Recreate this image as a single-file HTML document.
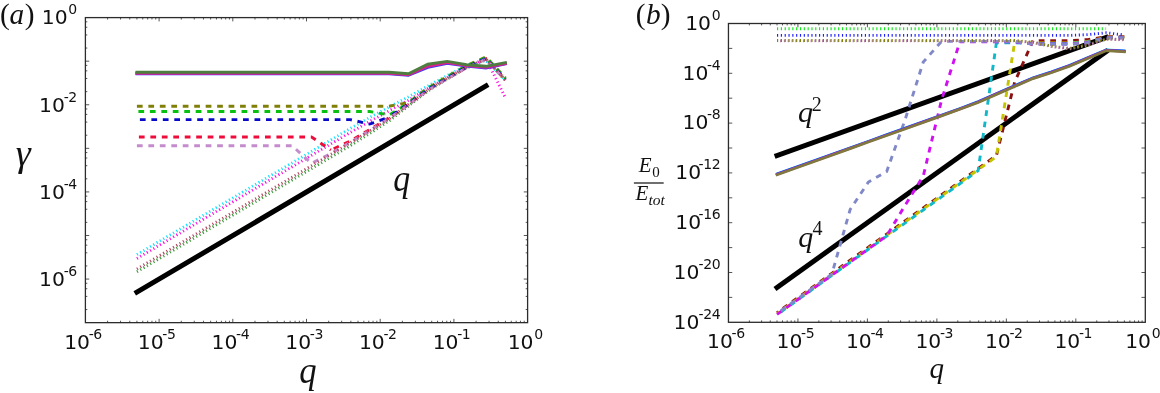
<!DOCTYPE html>
<html lang="en">
<head>
<meta charset="utf-8">
<title>Growth rate and energy ratio versus q</title>
<style>
html,body{margin:0;padding:0;background:#fff;}
body{width:1160px;height:393px;overflow:hidden;}
svg{display:block;}
.tk{font-family:"DejaVu Sans","Liberation Sans",sans-serif;font-size:20.3px;fill:#111;}
.sup{font-size:14px;letter-spacing:-0.4px;}
.it{font-family:"Liberation Serif","DejaVu Serif",serif;font-style:italic;fill:#111;}
</style>
</head>
<body>
<svg width="1160" height="393" viewBox="0 0 1160 393">
<rect x="0" y="0" width="1160" height="393" fill="#ffffff"/>
<g id="panel-a">
<polyline points="136.91,271.80 156.31,260.34 175.70,248.88 195.10,237.41 214.49,225.95 233.89,214.49 253.28,203.03 272.68,191.56 292.07,180.10 311.47,168.64 330.86,157.18 350.26,145.71 369.65,133.50 389.05,121.00 408.44,106.00 427.84,91.00 447.23,79.00 466.62,68.00 486.02,59.50 505.41,80.50" fill="none" stroke="#3c9c3c" stroke-width="2.90" stroke-linecap="butt" stroke-linejoin="miter" stroke-dasharray="1.15 2.67"/>
<polyline points="136.91,258.50 156.31,247.04 175.70,235.58 195.10,224.11 214.49,212.65 233.89,201.19 253.28,189.73 272.68,178.26 292.07,166.80 311.47,155.34 330.86,143.88 350.26,132.50 369.65,121.50 389.05,110.80 408.44,100.30 427.84,88.50 447.23,77.50 466.62,66.50 486.02,58.80 505.41,97.70" fill="none" stroke="#ff10e0" stroke-width="2.90" stroke-linecap="butt" stroke-linejoin="miter" stroke-dasharray="1.15 2.67"/>
<polyline points="136.91,254.60 156.31,243.14 175.70,231.68 195.10,220.21 214.49,208.75 233.89,197.29 253.28,185.83 272.68,174.36 292.07,162.90 311.47,151.44 330.86,139.98 350.26,128.50 369.65,117.50 389.05,107.00 408.44,96.80 427.84,86.00 447.23,75.50 466.62,65.50 486.02,60.50 505.41,80.00" fill="none" stroke="#10e0ff" stroke-width="2.90" stroke-linecap="butt" stroke-linejoin="miter" stroke-dasharray="1.15 2.67"/>
<polyline points="136.91,106.20 156.31,106.20 175.70,106.20 195.10,106.20 214.49,106.20 233.89,106.20 253.28,106.20 272.68,106.20 292.07,106.20 311.47,106.20 330.86,106.20 350.26,106.20 369.65,106.20 389.05,106.20 408.44,102.50" fill="none" stroke="#808008" stroke-width="2.90" stroke-linecap="butt" stroke-linejoin="miter" stroke-dasharray="5.73 5.73" stroke-dashoffset="0.00"/>
<polyline points="408.44,102.50 427.84,88.00 447.23,76.50 466.62,65.50 486.02,56.90 505.41,77.90" fill="none" stroke="#808008" stroke-width="2.90" stroke-linecap="butt" stroke-linejoin="miter" stroke-dasharray="5.73 5.73" stroke-dashoffset="8.34"/>
<polyline points="136.91,137.00 156.31,137.00 175.70,137.00 195.10,137.00 214.49,137.00 233.89,137.00 253.28,137.00 272.68,137.00 292.07,137.00 311.47,137.00 330.86,150.00" fill="none" stroke="#ee0c3a" stroke-width="2.90" stroke-linecap="butt" stroke-linejoin="miter" stroke-dasharray="5.73 5.73" stroke-dashoffset="9.46"/>
<polyline points="330.86,150.00 350.26,141.00 369.65,129.60 389.05,117.90 408.44,104.40 427.84,89.90 447.23,78.40 466.62,67.40 486.02,58.80 505.41,79.80" fill="none" stroke="#ee0c3a" stroke-width="2.90" stroke-linecap="butt" stroke-linejoin="miter" stroke-dasharray="5.73 5.73" stroke-dashoffset="8.37"/>
<polyline points="136.91,111.50 156.31,111.50 175.70,111.50 195.10,111.50 214.49,111.50 233.89,111.50 253.28,111.50 272.68,111.50 292.07,111.50 311.47,111.50 330.86,111.50 350.26,111.50 369.65,111.50 389.05,115.00 408.44,103.10" fill="none" stroke="#08c010" stroke-width="2.90" stroke-linecap="butt" stroke-linejoin="miter" stroke-dasharray="5.73 5.73" stroke-dashoffset="9.96"/>
<polyline points="408.44,103.10 427.84,88.60 447.23,77.10 466.62,66.10 486.02,57.50 505.41,78.50" fill="none" stroke="#08c010" stroke-width="2.90" stroke-linecap="butt" stroke-linejoin="miter" stroke-dasharray="5.73 5.73" stroke-dashoffset="8.34"/>
<polyline points="136.91,119.60 156.31,119.60 175.70,119.60 195.10,119.60 214.49,119.60 233.89,119.60 253.28,119.60 272.68,119.60 292.07,119.60 311.47,119.60 330.86,119.60 350.26,119.60 369.65,124.10 389.05,117.20" fill="none" stroke="#0808c8" stroke-width="2.90" stroke-linecap="butt" stroke-linejoin="miter" stroke-dasharray="5.73 5.73" stroke-dashoffset="8.46"/>
<polyline points="389.05,117.20 408.44,104.00 427.84,89.50 447.23,78.00 466.62,67.00 486.02,58.40 505.41,79.40" fill="none" stroke="#0808c8" stroke-width="2.90" stroke-linecap="butt" stroke-linejoin="miter" stroke-dasharray="5.73 5.73" stroke-dashoffset="7.52"/>
<polyline points="136.91,145.70 156.31,145.70 175.70,145.70 195.10,145.70 214.49,145.70 233.89,145.70 253.28,145.70 272.68,145.70 292.07,145.70 311.47,163.40 330.86,153.50 350.26,142.30 369.65,130.40 389.05,118.50 408.44,104.80 427.84,90.30 447.23,78.80 466.62,67.80 486.02,59.20 505.41,80.20" fill="none" stroke="#c48ccc" stroke-width="2.90" stroke-linecap="butt" stroke-linejoin="miter" stroke-dasharray="5.73 5.73" stroke-dashoffset="0.00"/>
<polyline points="136.91,269.00 156.31,257.54 175.70,246.08 195.10,234.61 214.49,223.15 233.89,211.69 253.28,200.23 272.68,188.76 292.07,177.30 311.47,165.84 330.86,154.38 350.26,142.91 369.65,131.00 389.05,119.00 408.44,104.50 427.84,90.00 447.23,78.50 466.62,67.50 486.02,59.00 505.41,80.00" fill="none" stroke="#b04860" stroke-width="2.90" stroke-linecap="butt" stroke-linejoin="miter" stroke-dasharray="1.15 2.67"/>
<polyline points="136.91,73.80 156.31,73.80 175.70,73.80 195.10,73.80 214.49,73.80 233.89,73.80 253.28,73.80 272.68,73.80 292.07,73.80 311.47,73.80 330.86,73.80 350.26,73.80 369.65,73.80 389.05,73.80 408.44,75.40 427.84,67.40 447.23,63.40 466.62,66.00 486.02,68.00 505.41,63.90" fill="none" stroke="#3a3aff" stroke-width="2.90" stroke-linecap="square" stroke-linejoin="miter"/>
<polyline points="136.91,73.20 156.31,73.20 175.70,73.20 195.10,73.20 214.49,73.20 233.89,73.20 253.28,73.20 272.68,73.20 292.07,73.20 311.47,73.20 330.86,73.20 350.26,73.20 369.65,73.20 389.05,73.20 408.44,74.80 427.84,66.20 447.23,62.60 466.62,65.60 486.02,67.40 505.41,63.50" fill="none" stroke="#e0208a" stroke-width="2.90" stroke-linecap="square" stroke-linejoin="miter"/>
<polyline points="136.91,72.20 156.31,72.20 175.70,72.20 195.10,72.20 214.49,72.20 233.89,72.20 253.28,72.20 272.68,72.20 292.07,72.20 311.47,72.20 330.86,72.20 350.26,72.20 369.65,72.20 389.05,72.20 408.44,73.80 427.84,64.20 447.23,61.40 466.62,64.80 486.02,66.30 505.41,62.60" fill="none" stroke="#4d7d3f" stroke-width="2.90" stroke-linecap="square" stroke-linejoin="miter"/>
<polyline points="136.91,292.19 486.02,85.97" fill="none" stroke="#000" stroke-width="5.00" stroke-linecap="square" stroke-linejoin="miter"/>
<rect x="85.40" y="17.60" width="442.20" height="305.05" fill="none" stroke="#2c2c2c" stroke-width="1.3"/>
<path d="M107.59 322.65L107.59 320.74M107.59 17.60L107.59 19.51M120.56 322.65L120.56 320.74M120.56 17.60L120.56 19.51M129.77 322.65L129.77 320.74M129.77 17.60L129.77 19.51M136.91 322.65L136.91 320.74M136.91 17.60L136.91 19.51M142.75 322.65L142.75 320.74M142.75 17.60L142.75 19.51M147.68 322.65L147.68 320.74M147.68 17.60L147.68 19.51M151.96 322.65L151.96 320.74M151.96 17.60L151.96 19.51M155.73 322.65L155.73 320.74M155.73 17.60L155.73 19.51M159.10 322.65L159.10 318.83M159.10 17.60L159.10 21.42M181.29 322.65L181.29 320.74M181.29 17.60L181.29 19.51M194.26 322.65L194.26 320.74M194.26 17.60L194.26 19.51M203.47 322.65L203.47 320.74M203.47 17.60L203.47 19.51M210.61 322.65L210.61 320.74M210.61 17.60L210.61 19.51M216.45 322.65L216.45 320.74M216.45 17.60L216.45 19.51M221.38 322.65L221.38 320.74M221.38 17.60L221.38 19.51M225.66 322.65L225.66 320.74M225.66 17.60L225.66 19.51M229.43 322.65L229.43 320.74M229.43 17.60L229.43 19.51M232.80 322.65L232.80 318.83M232.80 17.60L232.80 21.42M254.99 322.65L254.99 320.74M254.99 17.60L254.99 19.51M267.96 322.65L267.96 320.74M267.96 17.60L267.96 19.51M277.17 322.65L277.17 320.74M277.17 17.60L277.17 19.51M284.31 322.65L284.31 320.74M284.31 17.60L284.31 19.51M290.15 322.65L290.15 320.74M290.15 17.60L290.15 19.51M295.08 322.65L295.08 320.74M295.08 17.60L295.08 19.51M299.36 322.65L299.36 320.74M299.36 17.60L299.36 19.51M303.13 322.65L303.13 320.74M303.13 17.60L303.13 19.51M306.50 322.65L306.50 318.83M306.50 17.60L306.50 21.42M328.69 322.65L328.69 320.74M328.69 17.60L328.69 19.51M341.66 322.65L341.66 320.74M341.66 17.60L341.66 19.51M350.87 322.65L350.87 320.74M350.87 17.60L350.87 19.51M358.01 322.65L358.01 320.74M358.01 17.60L358.01 19.51M363.85 322.65L363.85 320.74M363.85 17.60L363.85 19.51M368.78 322.65L368.78 320.74M368.78 17.60L368.78 19.51M373.06 322.65L373.06 320.74M373.06 17.60L373.06 19.51M376.83 322.65L376.83 320.74M376.83 17.60L376.83 19.51M380.20 322.65L380.20 318.83M380.20 17.60L380.20 21.42M402.39 322.65L402.39 320.74M402.39 17.60L402.39 19.51M415.36 322.65L415.36 320.74M415.36 17.60L415.36 19.51M424.57 322.65L424.57 320.74M424.57 17.60L424.57 19.51M431.71 322.65L431.71 320.74M431.71 17.60L431.71 19.51M437.55 322.65L437.55 320.74M437.55 17.60L437.55 19.51M442.48 322.65L442.48 320.74M442.48 17.60L442.48 19.51M446.76 322.65L446.76 320.74M446.76 17.60L446.76 19.51M450.53 322.65L450.53 320.74M450.53 17.60L450.53 19.51M453.90 322.65L453.90 318.83M453.90 17.60L453.90 21.42M476.09 322.65L476.09 320.74M476.09 17.60L476.09 19.51M489.06 322.65L489.06 320.74M489.06 17.60L489.06 19.51M498.27 322.65L498.27 320.74M498.27 17.60L498.27 19.51M505.41 322.65L505.41 320.74M505.41 17.60L505.41 19.51M511.25 322.65L511.25 320.74M511.25 17.60L511.25 19.51M516.18 322.65L516.18 320.74M516.18 17.60L516.18 19.51M520.46 322.65L520.46 320.74M520.46 17.60L520.46 19.51M524.23 322.65L524.23 320.74M524.23 17.60L524.23 19.51" stroke="#2c2c2c" stroke-width="0.80" fill="none"/>
<path d="M85.40 21.82L87.31 21.82M527.60 21.82L525.69 21.82M85.40 27.27L87.31 27.27M527.60 27.27L525.69 27.27M85.40 34.94L87.31 34.94M527.60 34.94L525.69 34.94M85.40 48.06L87.31 48.06M527.60 48.06L525.69 48.06M85.40 61.18L89.22 61.18M527.60 61.18L523.78 61.18M85.40 65.40L87.31 65.40M527.60 65.40L525.69 65.40M85.40 70.85L87.31 70.85M527.60 70.85L525.69 70.85M85.40 78.52L87.31 78.52M527.60 78.52L525.69 78.52M85.40 91.64L87.31 91.64M527.60 91.64L525.69 91.64M85.40 104.76L89.22 104.76M527.60 104.76L523.78 104.76M85.40 108.98L87.31 108.98M527.60 108.98L525.69 108.98M85.40 114.42L87.31 114.42M527.60 114.42L525.69 114.42M85.40 122.10L87.31 122.10M527.60 122.10L525.69 122.10M85.40 135.22L87.31 135.22M527.60 135.22L525.69 135.22M85.40 148.34L89.22 148.34M527.60 148.34L523.78 148.34M85.40 152.56L87.31 152.56M527.60 152.56L525.69 152.56M85.40 158.00L87.31 158.00M527.60 158.00L525.69 158.00M85.40 165.68L87.31 165.68M527.60 165.68L525.69 165.68M85.40 178.80L87.31 178.80M527.60 178.80L525.69 178.80M85.40 191.91L89.22 191.91M527.60 191.91L523.78 191.91M85.40 196.14L87.31 196.14M527.60 196.14L525.69 196.14M85.40 201.58L87.31 201.58M527.60 201.58L525.69 201.58M85.40 209.26L87.31 209.26M527.60 209.26L525.69 209.26M85.40 222.37L87.31 222.37M527.60 222.37L525.69 222.37M85.40 235.49L89.22 235.49M527.60 235.49L523.78 235.49M85.40 239.72L87.31 239.72M527.60 239.72L525.69 239.72M85.40 245.16L87.31 245.16M527.60 245.16L525.69 245.16M85.40 252.83L87.31 252.83M527.60 252.83L525.69 252.83M85.40 265.95L87.31 265.95M527.60 265.95L525.69 265.95M85.40 279.07L89.22 279.07M527.60 279.07L523.78 279.07M85.40 283.29L87.31 283.29M527.60 283.29L525.69 283.29M85.40 288.74L87.31 288.74M527.60 288.74L525.69 288.74M85.40 296.41L87.31 296.41M527.60 296.41L525.69 296.41M85.40 309.53L87.31 309.53M527.60 309.53L525.69 309.53" stroke="#2c2c2c" stroke-width="0.80" fill="none"/>
<text x="83.00" y="348.90" text-anchor="middle" class="tk">10<tspan dx="-1.3" dy="-10.0" class="sup">-6</tspan></text>
<text x="156.70" y="348.90" text-anchor="middle" class="tk">10<tspan dx="-1.3" dy="-10.0" class="sup">-5</tspan></text>
<text x="230.40" y="348.90" text-anchor="middle" class="tk">10<tspan dx="-1.3" dy="-10.0" class="sup">-4</tspan></text>
<text x="304.10" y="348.90" text-anchor="middle" class="tk">10<tspan dx="-1.3" dy="-10.0" class="sup">-3</tspan></text>
<text x="377.80" y="348.90" text-anchor="middle" class="tk">10<tspan dx="-1.3" dy="-10.0" class="sup">-2</tspan></text>
<text x="451.50" y="348.90" text-anchor="middle" class="tk">10<tspan dx="-1.3" dy="-10.0" class="sup">-1</tspan></text>
<text x="525.20" y="348.90" text-anchor="middle" class="tk">10<tspan dx="0.7" dy="-10.0" class="sup">0</tspan></text>
<text x="76.80" y="24.40" text-anchor="end" class="tk">10<tspan dx="0.7" dy="-10.0" class="sup">0</tspan></text>
<text x="76.80" y="111.56" text-anchor="end" class="tk">10<tspan dx="-1.3" dy="-10.0" class="sup">-2</tspan></text>
<text x="76.80" y="198.71" text-anchor="end" class="tk">10<tspan dx="-1.3" dy="-10.0" class="sup">-4</tspan></text>
<text x="76.80" y="285.87" text-anchor="end" class="tk">10<tspan dx="-1.3" dy="-10.0" class="sup">-6</tspan></text>
<text x="0.0" y="23.8" class="it" font-size="29.3"><tspan font-style="normal">(</tspan><tspan dx="-0.2">a</tspan><tspan dx="0.6" font-style="normal">)</tspan></text>
<text x="15.7" y="165.8" class="it" font-size="38">γ</text>
<text transform="translate(299.2 383) scale(0.9 1)" class="it" font-size="38.5">q</text>
<text transform="translate(393.2 191) scale(0.9 1)" class="it" font-size="37.5">q</text>
</g>
<g id="panel-b">
<polyline points="777.01,155.50 1106.10,37.55" fill="none" stroke="#000" stroke-width="5.00" stroke-linecap="square" stroke-linejoin="miter"/>
<polyline points="777.01,287.49 1106.10,51.60" fill="none" stroke="#000" stroke-width="5.00" stroke-linecap="square" stroke-linejoin="miter"/>
<polyline points="777.01,312.60 795.29,299.51 813.58,286.42 831.86,273.33 850.14,260.24 868.43,247.15 886.71,234.06 904.99,220.97 923.27,207.88 941.56,194.79 959.84,181.69 978.12,168.60 996.41,155.51 1014.69,82.00 1032.97,40.65" fill="none" stroke="#8b1010" stroke-width="2.90" stroke-linecap="butt" stroke-linejoin="miter" stroke-dasharray="5.73 5.73" stroke-dashoffset="4.26"/>
<polyline points="1032.97,40.65 1051.25,40.65 1069.54,40.65 1087.82,39.60 1106.10,36.75 1124.39,36.75" fill="none" stroke="#8b1010" stroke-width="2.90" stroke-linecap="butt" stroke-linejoin="miter" stroke-dasharray="5.73 5.73" stroke-dashoffset="5.65"/>
<polyline points="777.01,313.70 795.29,300.61 813.58,287.52 831.86,274.43 850.14,261.34 868.43,248.25 886.71,235.16 904.99,222.07 923.27,208.98 941.56,195.89 959.84,182.79 978.12,169.70 996.41,156.61 1014.69,42.00" fill="none" stroke="#c4c400" stroke-width="2.90" stroke-linecap="butt" stroke-linejoin="miter" stroke-dasharray="5.73 5.73" stroke-dashoffset="2.06"/>
<polyline points="1014.69,42.00 1032.97,42.85 1051.25,42.85 1069.54,42.85 1087.82,41.50 1106.10,37.30 1124.39,37.30" fill="none" stroke="#c4c400" stroke-width="2.90" stroke-linecap="butt" stroke-linejoin="miter" stroke-dasharray="5.73 5.73" stroke-dashoffset="10.29"/>
<polyline points="777.01,314.70 795.29,301.61 813.58,288.52 831.86,275.43 850.14,262.34 868.43,249.25 886.71,236.16 904.99,223.07 923.27,209.98 941.56,196.89 959.84,183.79 978.12,170.70 996.41,42.80" fill="none" stroke="#10b8c8" stroke-width="2.90" stroke-linecap="butt" stroke-linejoin="miter" stroke-dasharray="5.73 5.73" stroke-dashoffset="6.76"/>
<polyline points="996.41,42.80 1014.69,42.80 1032.97,43.45 1051.25,43.45 1069.54,43.45 1087.82,42.00 1106.10,37.60 1124.39,37.60" fill="none" stroke="#10b8c8" stroke-width="2.90" stroke-linecap="butt" stroke-linejoin="miter" stroke-dasharray="5.73 5.73" stroke-dashoffset="3.47"/>
<polyline points="777.01,314.40 795.29,301.31 813.58,288.22 831.86,275.13 850.14,262.04 868.43,248.95 886.71,235.86 904.99,205.50 923.27,176.00 941.56,100.00 959.84,41.90" fill="none" stroke="#d010f0" stroke-width="2.90" stroke-linecap="butt" stroke-linejoin="miter" stroke-dasharray="5.73 5.73" stroke-dashoffset="0.00"/>
<polyline points="959.84,41.90 978.12,41.90 996.41,41.90 1014.69,41.90 1032.97,44.00 1051.25,44.00 1069.54,44.00 1087.82,42.50 1106.10,37.90 1124.39,37.90" fill="none" stroke="#d010f0" stroke-width="2.90" stroke-linecap="butt" stroke-linejoin="miter" stroke-dasharray="5.73 5.73" stroke-dashoffset="1.28"/>
<polyline points="777.01,313.50 795.29,300.41 813.58,287.32 831.86,274.23 850.14,209.50 868.43,182.00 886.71,171.50 904.99,120.00 923.27,62.00 941.56,41.40" fill="none" stroke="#8088c8" stroke-width="2.90" stroke-linecap="butt" stroke-linejoin="miter" stroke-dasharray="5.73 5.73" stroke-dashoffset="6.76"/>
<polyline points="941.56,41.40 959.84,41.40 978.12,41.40 996.41,41.40 1014.69,41.40 1032.97,44.25 1051.25,44.25 1069.54,44.25 1087.82,42.70 1106.10,38.15 1124.39,38.15" fill="none" stroke="#8088c8" stroke-width="2.90" stroke-linecap="butt" stroke-linejoin="miter" stroke-dasharray="5.73 5.73" stroke-dashoffset="5.92"/>
<polyline points="777.01,28.70 795.29,28.70 813.58,28.70 831.86,28.70 850.14,28.70 868.43,28.70 886.71,28.70 904.99,28.70 923.27,28.70 941.56,28.70 959.84,28.70 978.12,28.70 996.41,28.70 1014.69,28.70 1032.97,28.70 1051.25,28.70 1069.54,28.70 1087.82,28.70 1106.10,28.70" fill="none" stroke="#10e818" stroke-width="2.90" stroke-linecap="butt" stroke-linejoin="miter" stroke-dasharray="1.15 2.67"/>
<polyline points="777.01,35.40 795.29,35.40 813.58,35.40 831.86,35.40 850.14,35.40 868.43,35.40 886.71,35.40 904.99,35.40 923.27,35.40 941.56,35.40 959.84,35.40 978.12,35.40 996.41,35.40 1014.69,35.40 1032.97,35.40 1051.25,35.40 1069.54,35.40 1087.82,34.60 1106.10,32.80 1124.39,35.00" fill="none" stroke="#2020ff" stroke-width="2.90" stroke-linecap="butt" stroke-linejoin="miter" stroke-dasharray="1.15 2.67"/>
<polyline points="777.01,40.90 795.29,40.90 813.58,40.90 831.86,40.90 850.14,40.90 868.43,40.90 886.71,40.90 904.99,40.90 923.27,40.90 941.56,40.90 959.84,40.90 978.12,40.90 996.41,40.90 1014.69,40.90 1032.97,42.60 1051.25,46.60 1069.54,48.80 1087.82,45.20 1106.10,39.40 1124.39,39.80" fill="none" stroke="#c080c0" stroke-width="2.90" stroke-linecap="butt" stroke-linejoin="miter" stroke-dasharray="1.15 2.67" stroke-dashoffset="0.80"/>
<polyline points="777.01,40.50 795.29,40.50 813.58,40.50 831.86,40.50 850.14,40.50 868.43,40.50 886.71,40.50 904.99,40.50 923.27,40.50 941.56,40.50 959.84,40.50 978.12,40.50 996.41,40.50 1014.69,40.50 1032.97,42.20 1051.25,46.20 1069.54,48.40 1087.82,44.80 1106.10,39.00 1124.39,39.40" fill="none" stroke="#808010" stroke-width="2.90" stroke-linecap="butt" stroke-linejoin="miter" stroke-dasharray="1.15 2.67"/>
<polyline points="777.01,173.55 795.29,167.00 813.58,160.46 831.86,153.91 850.14,147.37 868.43,140.82 886.71,134.28 904.99,127.73 923.27,121.19 941.56,114.64 959.84,108.10 978.12,101.25 996.41,93.15 1014.69,85.25 1032.97,77.35 1051.25,71.55 1069.54,64.95 1087.82,57.15 1106.10,49.45 1124.39,50.55" fill="none" stroke="#20d8e8" stroke-width="2.00" stroke-linecap="square" stroke-linejoin="miter"/>
<polyline points="777.01,173.95 795.29,167.40 813.58,160.86 831.86,154.31 850.14,147.77 868.43,141.22 886.71,134.68 904.99,128.13 923.27,121.59 941.56,115.04 959.84,108.50 978.12,101.65 996.41,93.55 1014.69,85.65 1032.97,77.75 1051.25,71.95 1069.54,65.35 1087.82,57.55 1106.10,49.85 1124.39,50.95" fill="none" stroke="#3030ff" stroke-width="2.30" stroke-linecap="square" stroke-linejoin="miter"/>
<polyline points="777.01,174.40 795.29,167.85 813.58,161.31 831.86,154.76 850.14,148.22 868.43,141.67 886.71,135.13 904.99,128.58 923.27,122.04 941.56,115.49 959.84,108.95 978.12,102.10 996.41,94.00 1014.69,86.10 1032.97,78.20 1051.25,72.40 1069.54,65.80 1087.82,58.00 1106.10,50.30 1124.39,51.40" fill="none" stroke="#b020c0" stroke-width="2.50" stroke-linecap="square" stroke-linejoin="miter"/>
<polyline points="777.01,174.80 795.29,168.25 813.58,161.71 831.86,155.16 850.14,148.62 868.43,142.07 886.71,135.53 904.99,128.98 923.27,122.44 941.56,115.89 959.84,109.35 978.12,102.50 996.41,94.40 1014.69,86.50 1032.97,78.60 1051.25,72.80 1069.54,66.20 1087.82,58.40 1106.10,50.70 1124.39,51.80" fill="none" stroke="#80783c" stroke-width="2.70" stroke-linecap="square" stroke-linejoin="miter"/>
<rect x="728.45" y="23.50" width="416.85" height="298.80" fill="none" stroke="#2c2c2c" stroke-width="1.3"/>
<path d="M749.36 322.30L749.36 320.39M749.36 23.50L749.36 25.41M761.60 322.30L761.60 320.39M761.60 23.50L761.60 25.41M770.28 322.30L770.28 320.39M770.28 23.50L770.28 25.41M777.01 322.30L777.01 320.39M777.01 23.50L777.01 25.41M782.51 322.30L782.51 320.39M782.51 23.50L782.51 25.41M787.16 322.30L787.16 320.39M787.16 23.50L787.16 25.41M791.19 322.30L791.19 320.39M791.19 23.50L791.19 25.41M794.75 322.30L794.75 320.39M794.75 23.50L794.75 25.41M797.93 322.30L797.93 318.48M797.93 23.50L797.93 27.32M818.84 322.30L818.84 320.39M818.84 23.50L818.84 25.41M831.07 322.30L831.07 320.39M831.07 23.50L831.07 25.41M839.75 322.30L839.75 320.39M839.75 23.50L839.75 25.41M846.49 322.30L846.49 320.39M846.49 23.50L846.49 25.41M851.99 322.30L851.99 320.39M851.99 23.50L851.99 25.41M856.64 322.30L856.64 320.39M856.64 23.50L856.64 25.41M860.67 322.30L860.67 320.39M860.67 23.50L860.67 25.41M864.22 322.30L864.22 320.39M864.22 23.50L864.22 25.41M867.40 322.30L867.40 318.48M867.40 23.50L867.40 27.32M888.31 322.30L888.31 320.39M888.31 23.50L888.31 25.41M900.55 322.30L900.55 320.39M900.55 23.50L900.55 25.41M909.23 322.30L909.23 320.39M909.23 23.50L909.23 25.41M915.96 322.30L915.96 320.39M915.96 23.50L915.96 25.41M921.46 322.30L921.46 320.39M921.46 23.50L921.46 25.41M926.11 322.30L926.11 320.39M926.11 23.50L926.11 25.41M930.14 322.30L930.14 320.39M930.14 23.50L930.14 25.41M933.70 322.30L933.70 320.39M933.70 23.50L933.70 25.41M936.88 322.30L936.88 318.48M936.88 23.50L936.88 27.32M957.79 322.30L957.79 320.39M957.79 23.50L957.79 25.41M970.02 322.30L970.02 320.39M970.02 23.50L970.02 25.41M978.70 322.30L978.70 320.39M978.70 23.50L978.70 25.41M985.44 322.30L985.44 320.39M985.44 23.50L985.44 25.41M990.94 322.30L990.94 320.39M990.94 23.50L990.94 25.41M995.59 322.30L995.59 320.39M995.59 23.50L995.59 25.41M999.62 322.30L999.62 320.39M999.62 23.50L999.62 25.41M1003.17 322.30L1003.17 320.39M1003.17 23.50L1003.17 25.41M1006.35 322.30L1006.35 318.48M1006.35 23.50L1006.35 27.32M1027.26 322.30L1027.26 320.39M1027.26 23.50L1027.26 25.41M1039.50 322.30L1039.50 320.39M1039.50 23.50L1039.50 25.41M1048.18 322.30L1048.18 320.39M1048.18 23.50L1048.18 25.41M1054.91 322.30L1054.91 320.39M1054.91 23.50L1054.91 25.41M1060.41 322.30L1060.41 320.39M1060.41 23.50L1060.41 25.41M1065.06 322.30L1065.06 320.39M1065.06 23.50L1065.06 25.41M1069.09 322.30L1069.09 320.39M1069.09 23.50L1069.09 25.41M1072.65 322.30L1072.65 320.39M1072.65 23.50L1072.65 25.41M1075.82 322.30L1075.82 318.48M1075.82 23.50L1075.82 27.32M1096.74 322.30L1096.74 320.39M1096.74 23.50L1096.74 25.41M1108.97 322.30L1108.97 320.39M1108.97 23.50L1108.97 25.41M1117.65 322.30L1117.65 320.39M1117.65 23.50L1117.65 25.41M1124.39 322.30L1124.39 320.39M1124.39 23.50L1124.39 25.41M1129.89 322.30L1129.89 320.39M1129.89 23.50L1129.89 25.41M1134.54 322.30L1134.54 320.39M1134.54 23.50L1134.54 25.41M1138.57 322.30L1138.57 320.39M1138.57 23.50L1138.57 25.41M1142.12 322.30L1142.12 320.39M1142.12 23.50L1142.12 25.41" stroke="#2c2c2c" stroke-width="0.80" fill="none"/>
<path d="M728.45 48.40L732.27 48.40M1145.30 48.40L1141.48 48.40M728.45 73.30L732.27 73.30M1145.30 73.30L1141.48 73.30M728.45 98.20L732.27 98.20M1145.30 98.20L1141.48 98.20M728.45 123.10L732.27 123.10M1145.30 123.10L1141.48 123.10M728.45 148.00L732.27 148.00M1145.30 148.00L1141.48 148.00M728.45 172.90L732.27 172.90M1145.30 172.90L1141.48 172.90M728.45 197.80L732.27 197.80M1145.30 197.80L1141.48 197.80M728.45 222.70L732.27 222.70M1145.30 222.70L1141.48 222.70M728.45 247.60L732.27 247.60M1145.30 247.60L1141.48 247.60M728.45 272.50L732.27 272.50M1145.30 272.50L1141.48 272.50M728.45 297.40L732.27 297.40M1145.30 297.40L1141.48 297.40" stroke="#2c2c2c" stroke-width="0.80" fill="none"/>
<text x="725.85" y="348.00" text-anchor="middle" class="tk">10<tspan dx="-1.3" dy="-10.0" class="sup">-6</tspan></text>
<text x="795.33" y="348.00" text-anchor="middle" class="tk">10<tspan dx="-1.3" dy="-10.0" class="sup">-5</tspan></text>
<text x="864.80" y="348.00" text-anchor="middle" class="tk">10<tspan dx="-1.3" dy="-10.0" class="sup">-4</tspan></text>
<text x="934.27" y="348.00" text-anchor="middle" class="tk">10<tspan dx="-1.3" dy="-10.0" class="sup">-3</tspan></text>
<text x="1003.75" y="348.00" text-anchor="middle" class="tk">10<tspan dx="-1.3" dy="-10.0" class="sup">-2</tspan></text>
<text x="1073.22" y="348.00" text-anchor="middle" class="tk">10<tspan dx="-1.3" dy="-10.0" class="sup">-1</tspan></text>
<text x="1142.70" y="348.00" text-anchor="middle" class="tk">10<tspan dx="0.7" dy="-10.0" class="sup">0</tspan></text>
<text x="720.20" y="29.70" text-anchor="end" class="tk">10<tspan dx="0.7" dy="-10.0" class="sup">0</tspan></text>
<text x="720.20" y="79.50" text-anchor="end" class="tk">10<tspan dx="-1.3" dy="-10.0" class="sup">-4</tspan></text>
<text x="720.20" y="129.30" text-anchor="end" class="tk">10<tspan dx="-1.3" dy="-10.0" class="sup">-8</tspan></text>
<text x="720.20" y="179.10" text-anchor="end" class="tk">10<tspan dx="-2.6" dy="-10.0" class="sup">-12</tspan></text>
<text x="720.20" y="228.90" text-anchor="end" class="tk">10<tspan dx="-2.6" dy="-10.0" class="sup">-16</tspan></text>
<text x="720.20" y="278.70" text-anchor="end" class="tk">10<tspan dx="-0.8" dy="-10.0" class="sup">-20</tspan></text>
<text x="720.20" y="328.50" text-anchor="end" class="tk">10<tspan dx="-0.8" dy="-10.0" class="sup">-24</tspan></text>
<text x="635.7" y="23.8" class="it" font-size="29.3"><tspan font-style="normal">(</tspan><tspan dx="0.5">b</tspan><tspan dx="0.2" font-style="normal">)</tspan></text>
<text x="929.5" y="378" class="it" font-size="29">q</text>
<text x="797.9" y="122.3" class="it" font-size="30">q<tspan dx="-1.2" dy="-11.8" font-size="20" font-style="normal">2</tspan></text>
<text x="798.2" y="247.2" class="it" font-size="30">q<tspan dx="-0.8" dy="-11.8" font-size="20" font-style="normal">4</tspan></text>
<text x="638.8" y="171.7" class="it" font-size="21">E<tspan dx="0.6" dy="5.6" font-size="15" font-style="normal">0</tspan></text>
<rect x="633.9" y="182.4" width="29.8" height="1.2" fill="#111"/>
<text x="635.4" y="199.9" class="it" font-size="21">E<tspan dx="0.3" dy="4.6" font-size="15.5">tot</tspan></text>
</g>
</svg>
</body>
</html>
